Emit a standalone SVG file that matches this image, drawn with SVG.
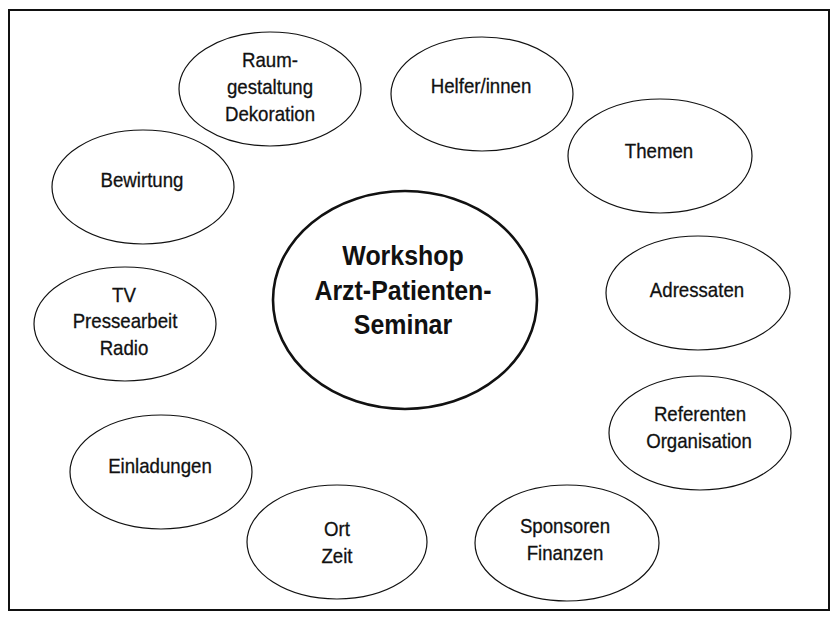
<svg xmlns="http://www.w3.org/2000/svg" width="832" height="618" viewBox="0 0 832 618">
  <style>
    .frame { fill: none; stroke: #111; stroke-width: 2; }
    .topic { fill: #fff; stroke: #111; stroke-width: 1.2; }
    .hub { fill: #fff; stroke: #111; stroke-width: 2.6; }
    .lbl { font-family: "Liberation Sans", Arial, sans-serif; font-size: 20.5px; fill: #111; stroke: #111; stroke-width: 0.3; text-anchor: middle; }
    .hubl { font-family: "Liberation Sans", Arial, sans-serif; font-size: 28px; font-weight: bold; fill: #111; text-anchor: middle; }
  </style>
  <rect x="0" y="0" width="832" height="618" fill="#fff"/>
  <rect class="frame" x="9" y="10" width="820" height="600"/>

  <!-- the topics stand free around the hub; no connecting lines -->
  <g id="connectors"></g>

  <!-- labels are set in a narrowed sans: each line is scaled horizontally -->
  <g id="hub">
    <ellipse class="hub" cx="405" cy="300" rx="132" ry="109"/>
    <text class="hubl" transform="translate(403 265) scale(0.89 1)">Workshop</text>
    <text class="hubl" transform="translate(403 300) scale(0.89 1)">Arzt-Patienten-</text>
    <text class="hubl" transform="translate(403 334) scale(0.89 1)">Seminar</text>
  </g>

  <g id="raumgestaltung">
    <ellipse class="topic" cx="270" cy="89" rx="91" ry="57"/>
    <text class="lbl" transform="translate(270 67) scale(0.91 1)">Raum-</text>
    <text class="lbl" transform="translate(270 94) scale(0.91 1)">gestaltung</text>
    <text class="lbl" transform="translate(270 121) scale(0.91 1)">Dekoration</text>
  </g>

  <g id="helfer">
    <ellipse class="topic" cx="482" cy="94" rx="91" ry="57"/>
    <text class="lbl" transform="translate(481 93) scale(0.91 1)">Helfer/innen</text>
  </g>

  <g id="themen">
    <ellipse class="topic" cx="660" cy="156" rx="92" ry="57"/>
    <text class="lbl" transform="translate(659 158) scale(0.91 1)">Themen</text>
  </g>

  <g id="bewirtung">
    <ellipse class="topic" cx="143" cy="187" rx="91" ry="57"/>
    <text class="lbl" transform="translate(142 187) scale(0.91 1)">Bewirtung</text>
  </g>

  <g id="adressaten">
    <ellipse class="topic" cx="698" cy="293" rx="92" ry="57"/>
    <text class="lbl" transform="translate(697 297) scale(0.91 1)">Adressaten</text>
  </g>

  <g id="presse">
    <ellipse class="topic" cx="125" cy="324" rx="91" ry="57"/>
    <text class="lbl" transform="translate(124 302) scale(0.91 1)">TV</text>
    <text class="lbl" transform="translate(125 328) scale(0.91 1)">Pressearbeit</text>
    <text class="lbl" transform="translate(124 355) scale(0.91 1)">Radio</text>
  </g>

  <g id="referenten">
    <ellipse class="topic" cx="700" cy="433" rx="91" ry="57"/>
    <text class="lbl" transform="translate(700 421) scale(0.91 1)">Referenten</text>
    <text class="lbl" transform="translate(699 448) scale(0.91 1)">Organisation</text>
  </g>

  <g id="einladungen">
    <ellipse class="topic" cx="161" cy="472" rx="91" ry="57"/>
    <text class="lbl" transform="translate(160 473) scale(0.91 1)">Einladungen</text>
  </g>

  <g id="ort-zeit">
    <ellipse class="topic" cx="337" cy="542" rx="90" ry="57"/>
    <text class="lbl" transform="translate(337 536) scale(0.91 1)">Ort</text>
    <text class="lbl" transform="translate(337 563) scale(0.91 1)">Zeit</text>
  </g>

  <g id="sponsoren">
    <ellipse class="topic" cx="567" cy="543" rx="92" ry="58"/>
    <text class="lbl" transform="translate(565 533) scale(0.91 1)">Sponsoren</text>
    <text class="lbl" transform="translate(565 560) scale(0.91 1)">Finanzen</text>
  </g>
</svg>
